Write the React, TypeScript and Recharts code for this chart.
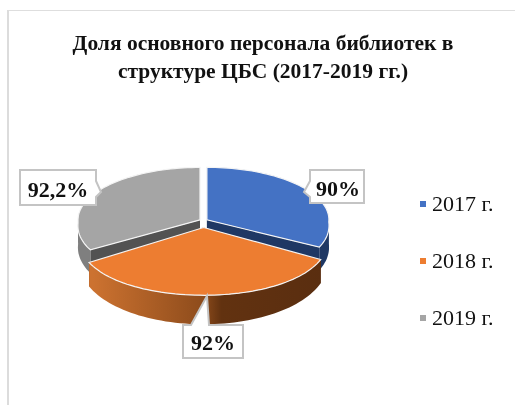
import { Cell, Legend, Pie, PieChart } from "recharts";

const YEARS = ["2017 г.", "2018 г.", "2019 г."];
const SHARES = [90, 92, 92.2];
const COLORS = ["#4472c4", "#ed7d31", "#a5a5a5"];
const CUT_COLORS = ["#1f3864", "#5a2e10", "#525252"];
const WALL_COLORS = ["#1f3864", "url(#orangeWall)", "#7f7f7f"];
const TITLE_LINES = ["Доля основного персонала библиотек в", "структуре ЦБС (2017-2019 гг.)"];

const data = YEARS.map((year, i) => ({ year, share: SHARES[i] }));

const CX = 203.5;
const CY = 222;
const RADIUS = 122;
const EXPLODE_X = 4;
const EXPLODE_Y = 10;
const BACK_TILT = 0.43;
const FRONT_INDEX = 1;

const rad = (deg: number) => (deg * Math.PI) / 180;

// recharts angles run counter-clockwise from 3 o'clock, the tilted pie wants clockwise from top
function project(theta: number, r: number, mid: number, low = false) {
  const u = r * Math.sin(rad(theta)) + EXPLODE_X * Math.sin(rad(mid));
  const v = -r * Math.cos(rad(theta)) - EXPLODE_Y * Math.cos(rad(mid));
  const near = Math.max(v, 0) / RADIUS;
  // the slice facing the viewer reads bigger than the two behind it
  const facing = Math.cos(rad(mid)) < -0.9;
  const frontTilt = facing ? 0.555 : 0.48;
  const widen = facing ? 0.16 : 0.1;
  const drop = low ? 22 + 6 * near * near : 0;
  return [CX + u * (1 + widen * near), CY + v * (v > 0 ? frontTilt : BACK_TILT) + drop];
}

function arcPoints(from: number, to: number, mid: number, low = false) {
  const pts: number[][] = [];
  const steps = Math.max(2, Math.ceil(Math.abs(to - from) / 2));
  for (let i = 0; i <= steps; i++) {
    pts.push(project(from + ((to - from) * i) / steps, RADIUS, mid, low));
  }
  return pts;
}

const toPath = (pts: number[][]) =>
  "M" + pts.map((p) => p[0].toFixed(1) + " " + p[1].toFixed(1)).join("L") + "Z";

function angles(props: any) {
  const from = 90 - props.startAngle;
  const to = 90 - props.endAngle;
  return { from, to, mid: (from + to) / 2 };
}

function SliceSides(props: any) {
  const i = YEARS.indexOf(props.name);
  const { from, to, mid } = angles(props);
  const apex = project(0, 0, mid);
  const apexLow = project(0, 0, mid, true);
  const cut = (theta: number) =>
    toPath([apex, project(theta, RADIUS, mid), project(theta, RADIUS, mid, true), apexLow]);
  const wallFrom = Math.max(from, 90);
  const wallTo = Math.min(to, 270);
  return (
    <g>
      <path d={cut(from)} fill={CUT_COLORS[i]} />
      <path d={cut(to)} fill={CUT_COLORS[i]} />
      <path
        d={toPath([
          ...arcPoints(wallFrom, wallTo, mid),
          ...arcPoints(wallTo, wallFrom, mid, true),
        ])}
        fill={WALL_COLORS[i]}
      />
    </g>
  );
}

function SliceTop(props: any) {
  const i = YEARS.indexOf(props.name);
  const { from, to, mid } = angles(props);
  return (
    <path
      d={toPath([project(0, 0, mid), ...arcPoints(from, to, mid)])}
      fill={COLORS[i]}
      stroke="#f4f4f4"
      strokeWidth={1.2}
    />
  );
}

const backSides = (props: any) =>
  YEARS.indexOf(props.name) === FRONT_INDEX ? <g /> : <SliceSides {...props} />;
const backTop = (props: any) =>
  YEARS.indexOf(props.name) === FRONT_INDEX ? <g /> : <SliceTop {...props} />;
const frontSlice = (props: any) =>
  YEARS.indexOf(props.name) === FRONT_INDEX ? (
    <g>
      <SliceSides {...props} />
      <SliceTop {...props} />
    </g>
  ) : (
    <g />
  );

// callout outlines, same order as YEARS
const CALLOUTS = [
  { d: "M310 170H364V203H310V197L304 192L310 181Z", x: 338, y: 196 },
  { d: "M183 325H191L207 296L209 325H243V358H183Z", x: 213, y: 350 },
  { d: "M20 170H96V181L101 192L96 197V205H20Z", x: 58, y: 197 },
];

function DataLabel(props: any) {
  const box = CALLOUTS[YEARS.indexOf(props.name)];
  return (
    <g>
      <path d={box.d} fill="#fff" stroke="#c4c4c4" strokeWidth={2} />
      <text
        x={box.x}
        y={box.y}
        textAnchor="middle"
        fontFamily="Liberation Serif"
        fontWeight={700}
        fontSize={22}
        fill="#111"
      >
        {String(props.value).replace(".", ",") + "%"}
      </text>
    </g>
  );
}

function YearLegend({ payload }: any) {
  // the layered pies each report their slices, only the coloured ones are the legend
  const items = (payload || []).filter((item: any) => COLORS.includes(item.color));
  return (
    <div style={{ fontFamily: "Liberation Serif", fontSize: 22, color: "#111" }}>
      {items.map((item: any) => (
        <div key={item.value} style={{ display: "flex", alignItems: "center", height: 57 }}>
          <span
            style={{ width: 6, height: 6, background: item.color, marginRight: 6, flexShrink: 0 }}
          />
          {item.value}
        </div>
      ))}
    </div>
  );
}

const pieProps = {
  data,
  dataKey: "share",
  nameKey: "year",
  cx: CX,
  cy: CY,
  outerRadius: RADIUS,
  startAngle: 90,
  endAngle: -270,
  stroke: "none",
  isAnimationActive: false,
};

export default function App() {
  return (
    <div
      style={{
        position: "absolute",
        left: 0,
        top: 0,
        width: 515,
        height: 405,
        background: "#fff",
        overflow: "hidden",
        filter: "blur(0.4px)",
      }}
    >
      <div
        style={{
          position: "absolute",
          left: 7,
          top: 10,
          width: 508,
          height: 395,
          borderLeft: "2px solid #dcdcdc",
          borderTop: "1.5px solid #dedede",
        }}
      />
      <PieChart width={515} height={405} style={{ position: "absolute", left: 0, top: 0 }}>
        <defs>
          <linearGradient id="orangeWall" gradientUnits="userSpaceOnUse" x1={93} x2={322} y1={0} y2={0}>
            <stop offset="0" stopColor="#cc7230" />
            <stop offset="0.48" stopColor="#8e4c1c" />
            <stop offset="0.56" stopColor="#623210" />
            <stop offset="1" stopColor="#5a2e10" />
          </linearGradient>
        </defs>
        {TITLE_LINES.map((line, i) => (
          <text
            key={line}
            x={263}
            y={50 + i * 28}
            textAnchor="middle"
            fontFamily="Liberation Serif"
            fontWeight={700}
            fontSize={21.5}
            fill="#111"
          >
            {line}
          </text>
        ))}
        <Pie {...pieProps} legendType="none" shape={backSides} />
        <Pie {...pieProps} legendType="none" shape={backTop} />
        <Pie {...pieProps} shape={frontSlice} label={DataLabel} labelLine={false}>
          {YEARS.map((year, i) => (
            <Cell key={year} fill={COLORS[i]} />
          ))}
        </Pie>
        <Legend
          content={YearLegend}
          layout="vertical"
          align="right"
          verticalAlign="top"
          wrapperStyle={{ left: 420, top: 175, width: 95 }}
        />
      </PieChart>
    </div>
  );
}
